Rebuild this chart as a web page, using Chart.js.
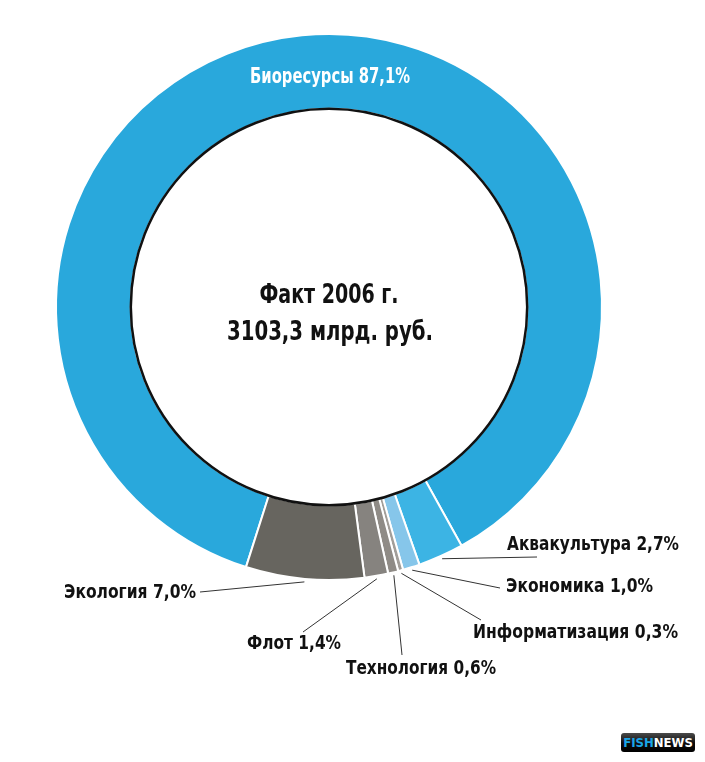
<!DOCTYPE html>
<html lang="ru">
<head>
<meta charset="utf-8">
<title>Факт 2006 г.</title>
<script src="https://cdn.jsdelivr.net/npm/chart.js@4/dist/chart.umd.min.js"></script>
<style>
    html, body { margin: 0; padding: 0; background: #fff; }
    .chart-wrap { position: relative; width: 705px; height: 762px; }
    .logo {
        position: absolute; left: 621px; top: 733px; width: 74px; height: 19px;
        border-radius: 3px;
        background: linear-gradient(#4a4a4a, #0c0c0c 55%, #000);
        font: bold 13px "DejaVu Sans Condensed", sans-serif;
        line-height: 19px; text-align: center;
    }
    .logo .fish { color: #1aa6e8; }
    .logo .news { color: #fff; }
</style>
</head>
<body>
<div class="chart-wrap">
    <canvas id="budgetChart"></canvas>
    <div class="logo"><span class="fish">FISH</span><span class="news">NEWS</span></div>
</div>
<script>
// Segment data, clockwise from the left edge of "Биоресурсы"
const categories = ['Биоресурсы', 'Аквакультура', 'Экономика', 'Информатизация', 'Технология', 'Флот', 'Экология'];
const shares = [87.1, 2.7, 1.0, 0.3, 0.6, 1.4, 7.0];
const shareLabels = ['87,1%', '2,7%', '1,0%', '0,3%', '0,6%', '1,4%', '7,0%'];
const segmentColors = ['#29a8dc', '#3cb4e4', '#86c6ea', '#a29e99', '#8f8b86', '#86837f', '#67655f'];
const centerLines = ['Факт 2006 г.', '3103,3 млрд. руб.'];

// Outside labels: leader end, text left/middle point, text width
const calloutPlaces = [
    null,
    { end: [537, 557], text: [507, 545], width: 172 },
    { end: [500, 588], text: [506, 587], width: 147 },
    { end: [481, 620], text: [473, 633], width: 205 },
    { end: [402, 655], text: [346, 669], width: 150 },
    { end: [303, 632], text: [247, 644], width: 94 },
    { end: [200, 592], text: [64, 593], width: 132 }
];

const FONT_FAMILY = '"DejaVu Sans Condensed", "Liberation Sans", sans-serif';

/**
 * Draw text squeezed to a given width (the original uses a condensed face)
 */
function fitText(ctx, text, x, y, width, align) {
    const natural = ctx.measureText(text).width;
    const sx = Math.min(1, width / natural);
    ctx.save();
    ctx.translate(x, y);
    ctx.scale(sx, 1);
    ctx.textAlign = align;
    ctx.fillText(text, 0, 0);
    ctx.restore();
}

/**
 * Inner outline, center caption, top label and leader-line callouts
 */
const calloutPlugin = {
    id: 'callouts',
    afterDatasetsDraw(chart) {
        const { ctx } = chart;
        const meta = chart.getDatasetMeta(0);
        const first = meta.data[0];
        const { x: cx, y: cy, innerRadius, outerRadius } = first.getProps(['x', 'y', 'innerRadius', 'outerRadius'], true);

        ctx.save();

        // thin black rim round the hole
        ctx.beginPath();
        ctx.arc(cx, cy, innerRadius, 0, Math.PI * 2);
        ctx.lineWidth = 2.5;
        ctx.strokeStyle = '#111';
        ctx.stroke();

        ctx.textBaseline = 'middle';

        // center caption
        ctx.fillStyle = '#111';
        ctx.font = 'bold 26px ' + FONT_FAMILY;
        fitText(ctx, centerLines[0], cx, cy - 11, 139, 'center');
        fitText(ctx, centerLines[1], cx + 1, cy + 26, 206, 'center');

        // big segment label, inside the ring at the top
        ctx.fillStyle = '#ffffff';
        ctx.font = 'bold 21px ' + FONT_FAMILY;
        fitText(ctx, categories[0] + ' ' + shareLabels[0], cx + 1, cy - (innerRadius + outerRadius) / 2 + 6, 160, 'center');

        // small segment callouts
        ctx.font = 'bold 20px ' + FONT_FAMILY;
        meta.data.forEach((arc, i) => {
            const place = calloutPlaces[i];
            if (!place) return;
            const { startAngle, endAngle } = arc.getProps(['startAngle', 'endAngle'], true);
            const mid = (startAngle + endAngle) / 2;
            const r = outerRadius + 3;

            ctx.beginPath();
            ctx.moveTo(cx + Math.cos(mid) * r, cy + Math.sin(mid) * r);
            ctx.lineTo(place.end[0], place.end[1]);
            ctx.lineWidth = 1;
            ctx.strokeStyle = '#333';
            ctx.stroke();

            ctx.fillStyle = '#111';
            fitText(ctx, categories[i] + ' ' + shareLabels[i], place.text[0], place.text[1], place.width, 'left');
        });

        ctx.restore();
    }
};

const budgetCtx = document.getElementById('budgetChart');
new Chart(budgetCtx, {
    type: 'doughnut',
    data: {
        labels: categories,
        datasets: [{
            data: shares,
            backgroundColor: segmentColors,
            borderColor: '#ffffff',
            borderWidth: 2,
            hoverOffset: 0
        }]
    },
    options: {
        responsive: true,
        maintainAspectRatio: false,
        animation: false,
        rotation: 197.7,
        cutout: '72.6%',
        layout: {
            padding: { left: 55, right: 102, top: 33, bottom: 181 }
        },
        plugins: {
            legend: { display: false },
            tooltip: { enabled: false }
        },
        events: []
    },
    plugins: [calloutPlugin]
});
</script>
</body>
</html>
